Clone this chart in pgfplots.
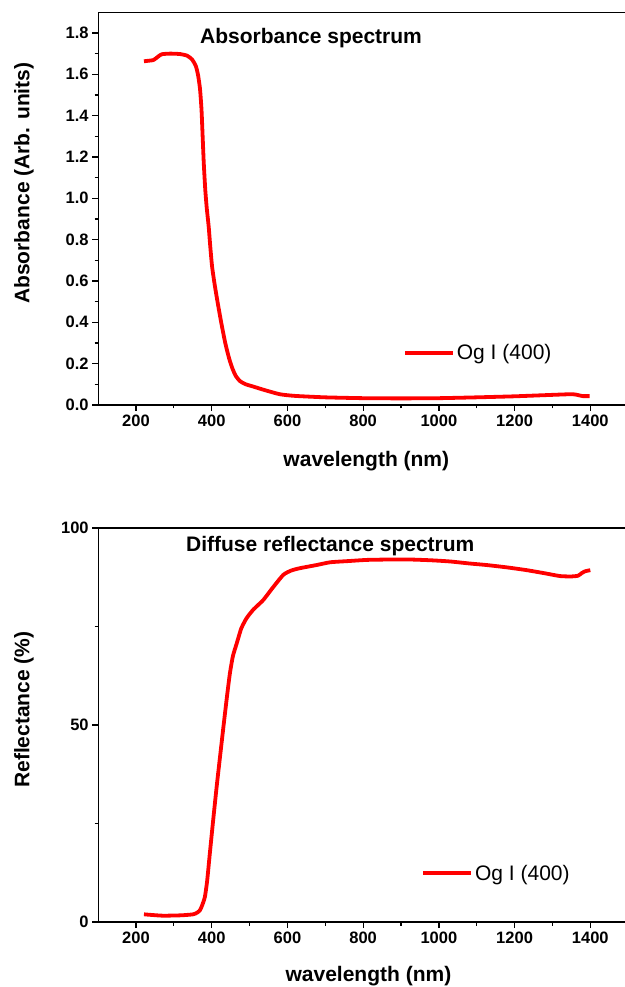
\documentclass[border=0pt]{standalone}
\usepackage{pgfplots}
\pgfplotsset{compat=1.18}
\usepackage{fontspec}
\setmainfont{Liberation Sans}

\pgfplotsset{
  common/.style={
    scale only axis, width=530pt,
    xmin=100, xmax=1500,
    xtick={200,400,600,800,1000,1200,1400},
    minor x tick num=1,
    tick align=outside, tick pos=left,
    major tick length=6pt, minor tick length=3.5pt,
    axis line style={line width=1.3pt},
    major tick style={line width=1.3pt, black},
    minor tick style={line width=1.1pt, black},
    /pgf/number format/assume math mode=true,
    tick label style={font=\fontsize{16.5}{19}\selectfont\bfseries},
    xticklabel style={/pgf/number format/set thousands separator={}},
    label style={font=\fontsize{21}{25}\selectfont\bfseries},
    xlabel={wavelength (nm)},
    legend style={draw=none, fill=none, font=\fontsize{21}{25}\selectfont, inner sep=0pt, anchor=west},
    legend image code/.code={\draw[#1] (0pt,0pt) -- (48pt,0pt);},
  }
}

\begin{document}
\begin{tikzpicture}[x=1pt,y=1pt]
\begin{axis}[common,
  at={(98.15pt,582pt)}, anchor=south west, height=392.7pt,
  ymin=0, ymax=1.9,
  ytick={0,0.2,0.4,0.6,0.8,1.0,1.2,1.4,1.6,1.8},
  minor y tick num=1,
  yticklabel style={/pgf/number format/.cd, fixed, fixed zerofill, precision=1},
  ylabel={Absorbance (Arb. units)},
  y label style={at={(axis description cs:-0.14,0.565)}, anchor=center},
  x label style={at={(axis description cs:0.506,-0.1426)}, anchor=center},
  legend style={at={(axis cs:905,0.2516)}},
]
\addplot[red, line width=3.8pt, line join=round, smooth, tension=0.35] coordinates {
(221,1.663) (230,1.665) (246,1.669) (258,1.685) (268,1.697) (290,1.700)
(316,1.698) (335,1.690) (348,1.672) (358,1.640) (364,1.595) (369,1.530)
(373,1.430) (376,1.300) (379,1.170) (383,1.040) (387,0.950) (392,0.863)
(396,0.770) (401,0.669) (408,0.580) (416,0.492) (426,0.390) (436,0.298)
(446,0.225) (454,0.180) (463,0.142) (475,0.115) (490,0.100) (510,0.089)
(540,0.072) (580,0.052) (620,0.044) (700,0.037) (800,0.033) (900,0.032)
(1000,0.033) (1100,0.037) (1200,0.042) (1300,0.049) (1345,0.052)
(1360,0.051) (1372,0.046) (1380,0.043) (1398,0.043)
};
\addlegendentry{Og I (400)}
\node[anchor=west, inner sep=0pt, font=\fontsize{21}{25}\selectfont\bfseries] at (axis cs:369,1.776) {Absorbance spectrum};
\end{axis}

\begin{axis}[common,
  at={(98.15pt,65pt)}, anchor=south west, height=394pt,
  ymin=0, ymax=100,
  ytick={0,50,100},
  minor y tick num=1,
  ylabel={Reflectance (\%)},
  y label style={at={(axis description cs:-0.14,0.539)}, anchor=center},
  x label style={at={(axis description cs:0.51,-0.137)}, anchor=center},
  legend style={at={(axis cs:953,12.4)}},
]
\addplot[red, line width=3.8pt, line join=round, smooth, tension=0.35] coordinates {
(221,1.95) (240,1.8) (272,1.6) (320,1.7) (351,1.95) (362,2.4) (369,3.0)
(375,4.3) (382,6.4) (388,10.5) (395,17.4) (404,26) (413,34.3) (422,42)
(431,49.6) (440,57) (448,63.1) (456,67.5) (466,70.7) (478,74.5) (492,77.1)
(510,79.3) (536,81.7) (560,84.7) (589,88.1) (610,89.2) (633,89.8) (677,90.6)
(713,91.3) (760,91.6) (810,91.9) (870,92.0) (924,92.0) (980,91.8) (1030,91.5)
(1080,91.0) (1126,90.6) (1180,90.0) (1232,89.3) (1280,88.5) (1320,87.8)
(1350,87.7) (1368,87.9) (1378,88.6) (1386,89.0) (1400,89.3)
};
\addlegendentry{Og I (400)}
\node[anchor=west, inner sep=0pt, font=\fontsize{21}{25}\selectfont\bfseries] at (axis cs:332,95.5) {Diffuse reflectance spectrum};
\end{axis}
\pgfresetboundingbox
\useasboundingbox (0,0) rectangle (624,987);
\end{tikzpicture}
\end{document}
